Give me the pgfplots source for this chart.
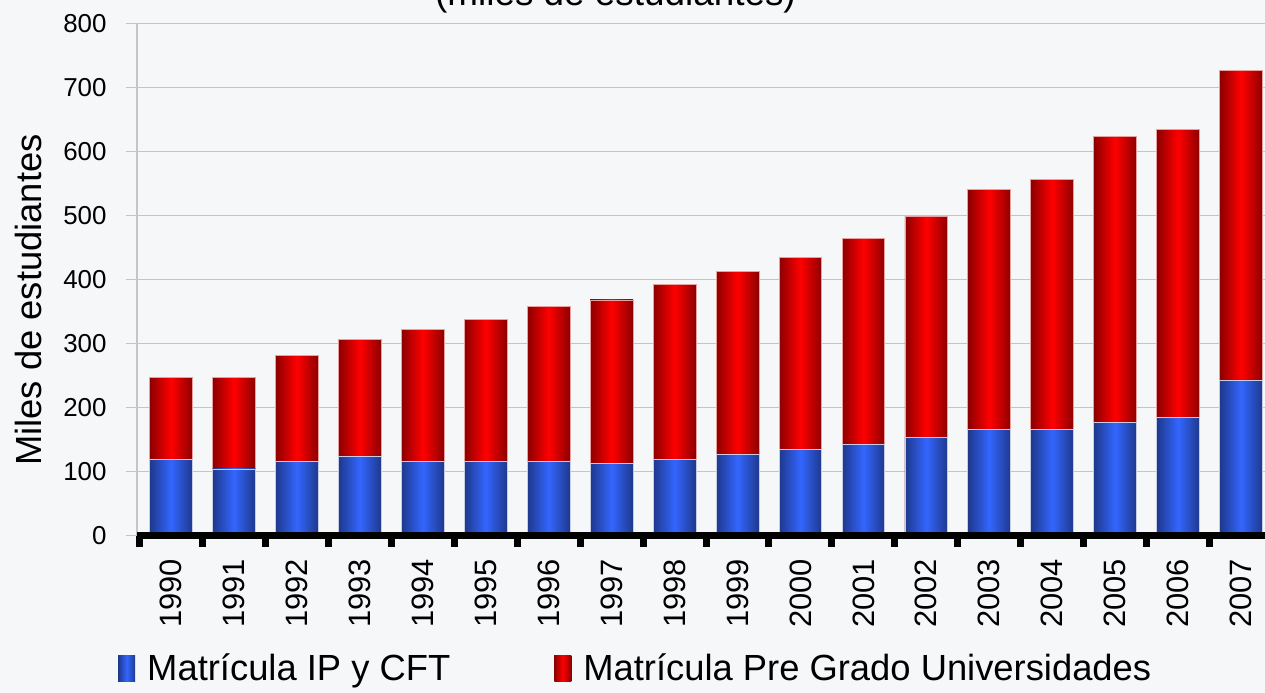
\documentclass[border=0pt]{standalone}
\usepackage{pgfplots}
\pgfplotsset{compat=1.18}
\usepackage{fontspec}
\setmainfont{Liberation Sans}
\definecolor{bgc}{RGB}{246,247,249}
\definecolor{bluebright}{RGB}{51,102,255}
\definecolor{bluedark}{RGB}{30,56,140}
\definecolor{redbright}{RGB}{255,0,0}
\definecolor{reddark}{RGB}{140,0,0}
\definecolor{gridc}{RGB}{195,197,200}
\pgfplotsset{
  bluefill/.style={fill=bluebright, left color=bluedark, right color=bluedark, middle color=bluebright, draw={rgb,255:red,200;green,205;blue,230}, line width=0.8bp},
  redfill/.style={fill=redbright, left color=reddark, right color=reddark, middle color=redbright, draw={rgb,255:red,235;green,160;blue,160}, line width=0.8bp},
  onebar/.style={ybar, bar width=0.68, bar shift=0pt, forget plot},
}
% \yearbar{x}{Matricula IP y CFT}{total (IP y CFT + Pre Grado Universidades)}
\newcommand\yearbar[3]{%
  \addplot[onebar, redfill] coordinates {(#1,#3)};
  \addplot[onebar, bluefill] coordinates {(#1,#2)};
}
\begin{document}
\begin{tikzpicture}
\useasboundingbox (0,0) rectangle (1265bp,693bp);
\fill[bgc] (0,0) rectangle (1265bp,693bp);
\node[anchor=base west, inner sep=0pt, font=\fontsize{37}{40}\selectfont] at (435bp,687bp) {(miles de estudiantes)};
\begin{axis}[
  at={(137bp,157.5bp)}, anchor=south west,
  scale only axis, width=1128bp, height=512bp,
  xmin=-0.54, xmax=17.38, ymin=0, ymax=800,
  axis lines*=left,
  x axis line style={black, line width=7bp},
  y axis line style={gridc, line width=2bp},
  xtick={-0.5,0.5,1.5,2.5,3.5,4.5,5.5,6.5,7.5,8.5,9.5,10.5,11.5,12.5,13.5,14.5,15.5,16.5},
  xticklabels={},
  xtick style={draw=black, line width=7bp},
  extra x ticks={0,1,2,3,4,5,6,7,8,9,10,11,12,13,14,15,16,17},
  extra x tick labels={1990,1991,1992,1993,1994,1995,1996,1997,1998,1999,2000,2001,2002,2003,2004,2005,2006,2007},
  extra x tick style={major tick length=0pt, grid=none},
  xticklabel style={rotate=90, anchor=east, font=\fontsize{31}{34}\selectfont},
  xticklabel shift=20bp,
  ytick={0,100,...,800},
  ytick style={draw=gridc, line width=1.5bp},
  tick align=outside, major tick length=11bp,
  yticklabel style={font=\fontsize{26}{28}\selectfont},
  yticklabel shift=16bp,
  /pgf/number format/assume math mode=true,
  ymajorgrids, grid style={gridc, line width=1.2bp},
  ylabel={Miles de estudiantes},
  ylabel style={at={(axis description cs:-0.0966,0.46)}, anchor=center, font=\fontsize{36.5}{40}\selectfont},
  legend style={at={(axis description cs:-0.0168,-0.259)}, anchor=west, draw=none, fill=none, inner sep=0pt, legend columns=2, font=\fontsize{36.5}{40}\selectfont, /tikz/every even column/.append style={column sep=102bp}},
  legend cell align=left,
  legend image code/.code={\draw[#1,draw=none] (0bp,-13bp) rectangle (17bp,13bp);},
]
\yearbar{0}{119}{247}
\yearbar{1}{104}{247}
\yearbar{2}{115}{281}
\yearbar{3}{123}{307}
\yearbar{4}{115}{322}
\yearbar{5}{115}{337}
\yearbar{6}{115}{358}
\yearbar{7}{112}{368}
\yearbar{8}{119}{392}
\yearbar{9}{126}{412}
\yearbar{10}{134}{435}
\yearbar{11}{142}{464}
\yearbar{12}{153}{499}
\yearbar{13}{165}{541}
\yearbar{14}{165}{557}
\yearbar{15}{177}{623}
\yearbar{16}{184}{634}
\yearbar{17}{242}{727}
\draw[black, line width=7bp] (rel axis cs:0,0) -- (rel axis cs:1,0);
\addlegendimage{bluefill}
\addlegendentry{\hspace{10bp}Matrícula IP y CFT}
\addlegendimage{redfill}
\addlegendentry{\hspace{10bp}Matrícula Pre Grado Universidades}
\end{axis}
\end{tikzpicture}
\end{document}
